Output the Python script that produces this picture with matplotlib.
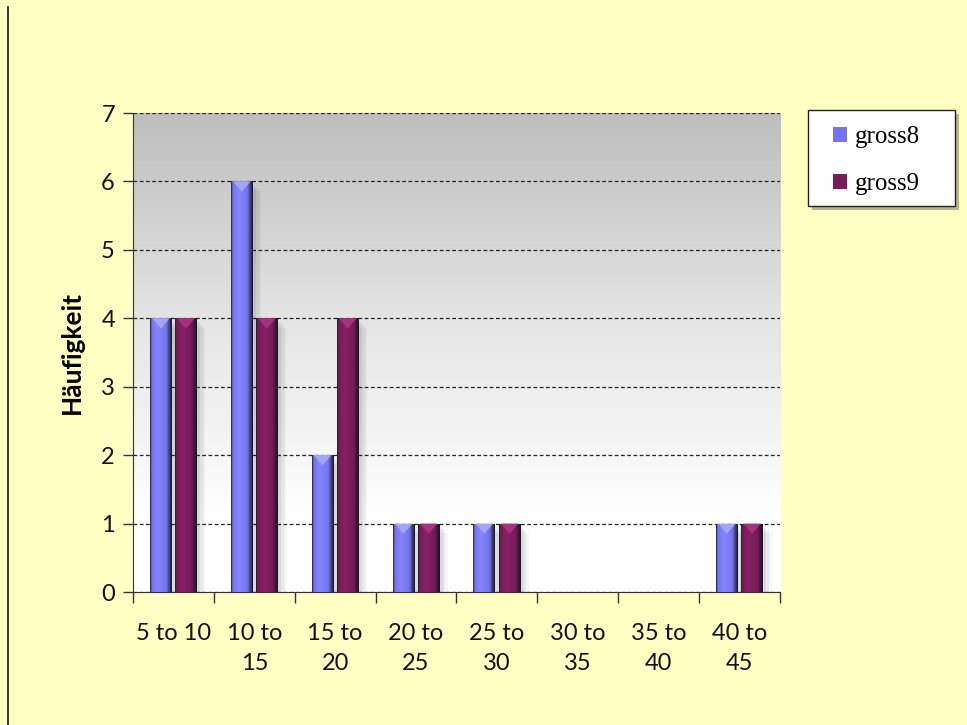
import numpy as np
import matplotlib
matplotlib.use("Agg")
import matplotlib.pyplot as plt
from matplotlib.patches import Rectangle, Polygon, Patch
from matplotlib.colors import LinearSegmentedColormap

categories = ["5 to 10", "10 to\n15", "15 to\n20", "20 to\n25", "25 to\n30", "30 to\n35", "35 to\n40", "40 to\n45"]
gross8 = [4, 6, 2, 1, 1, 0, 0, 1]
gross9 = [4, 4, 4, 1, 1, 0, 0, 1]
series_names = ["gross8", "gross9"]
yticks = [0, 1, 2, 3, 4, 5, 6, 7]

col8 = "#7474EC"
col9 = "#761C58"

fig = plt.figure(figsize=(9.67, 7.25), dpi=100)
fig.patch.set_facecolor("#FFFFC4")
ax = fig.add_axes([0.1375, 0.1834, 0.6691, 0.6607])
ax.set_facecolor("white")

n = len(categories)
x = np.arange(n)
w = 0.27
off = 0.155
ax.set_xlim(-0.5, n - 0.5)
ax.set_ylim(0, 7)

grad = np.linspace(0, 1, 256).reshape(-1, 1)
bgcmap = LinearSegmentedColormap.from_list("bg", [(0, "#FFFFFF"), (0.15, "#FFFFFF"),
                                                  (0.55, "#E6E6E6"), (1, "#BEBEBE")])
ax.imshow(grad, extent=[-0.5, n - 0.5, 0, 7], origin="lower", aspect="auto",
          cmap=bgcmap, zorder=0)

ax.yaxis.grid(True, linestyle=(0, (3, 2)), color="#222222", linewidth=0.9, zorder=1)
ax.set_axisbelow(True)

def bevel(ax, bars, base):
    rgb = np.array(matplotlib.colors.to_rgb(base))
    cmap = LinearSegmentedColormap.from_list("b", [
        (0.0, "#202030"), (0.08, base), (0.35, tuple(np.clip(rgb * 1.15, 0, 1))),
        (0.75, base), (1.0, "#151525")])
    for p in bars:
        h = p.get_height()
        if h <= 0:
            continue
        x0 = p.get_x(); bw = p.get_width()
        for k, a in enumerate([0.06, 0.05, 0.04]):
            ax.add_patch(Rectangle((x0 + bw * (0.15 + 0.12 * k), 0), bw, h - 0.06 - 0.04 * k,
                                   facecolor="#000000", alpha=a, edgecolor="none", zorder=2))
        img = np.linspace(0, 1, 64).reshape(1, -1)
        im = ax.imshow(img, extent=[x0, x0 + bw, 0, h], aspect="auto", cmap=cmap,
                       origin="lower", zorder=3)
        im.set_clip_path(p)
        light = np.clip(rgb * 1.3 + 0.05, 0, 1)
        tri = Polygon([[x0 + bw * 0.1, h], [x0 + bw * 0.9, h], [x0 + bw * 0.5, h - 0.15]],
                      closed=True, facecolor=light, edgecolor="none", zorder=4)
        ax.add_patch(tri)

b1 = ax.bar(x - off, gross8, w, color=col8, zorder=3, linewidth=0)
b2 = ax.bar(x + off, gross9, w, color=col9, zorder=3, linewidth=0)
bevel(ax, b1, col8)
bevel(ax, b2, col9)

for s in ["top", "right"]:
    ax.spines[s].set_visible(False)
ax.spines["left"].set_color("#333333")
ax.spines["bottom"].set_color("#333333")

ax.set_yticks(yticks)
ax.set_yticklabels([str(t) for t in yticks], fontsize=17, family="Lato", color="#111111")
ax.tick_params(axis="y", length=7, width=1, color="#333333", pad=6)
ax.set_xticks(np.arange(n + 1) - 0.5)
ax.set_xticklabels([])
ax.set_xticks(x, minor=True)
ax.set_xticklabels(categories, minor=True, fontsize=17, family="Lato", color="#111111",
                   linespacing=1.55)
ax.tick_params(axis="x", which="major", length=8, width=1, color="#333333", direction="out")
ax.tick_params(axis="x", which="minor", length=0, pad=22)

ax.set_ylabel("Häufigkeit", fontsize=19, fontweight="bold", family="Lato", labelpad=12)

# legend box with shadow (figure coords)
bx, by, bw_, bh = 808 / 967, 1 - 206 / 725, 147 / 967, 96 / 725
fig.add_artist(Rectangle((bx + 4 / 967, by - 4 / 725), bw_, bh, transform=fig.transFigure,
                         facecolor="#888866", alpha=0.6, edgecolor="none", zorder=5))
fig.add_artist(Rectangle((bx, by), bw_, bh, transform=fig.transFigure,
                         facecolor="white", edgecolor="#222222", linewidth=1, zorder=6))

handles = [Patch(facecolor=col8, edgecolor="none"), Patch(facecolor=col9, edgecolor="none")]
leg = fig.legend(handles, series_names, loc="upper left", bbox_to_anchor=(0.841, 0.8535),
                 frameon=False,
                 prop={"family": "Liberation Serif", "size": 18},
                 handlelength=0.55, handleheight=0.55, handletextpad=0.3,
                 labelspacing=1.0, borderpad=0.8, borderaxespad=0)
leg.set_zorder(7)

fig.add_artist(plt.Line2D([0.0083, 0.0083], [0.0, 0.99], color="#111111", linewidth=1.2,
                          transform=fig.transFigure))

fig.savefig("out.png", dpi=100, facecolor=fig.get_facecolor())
